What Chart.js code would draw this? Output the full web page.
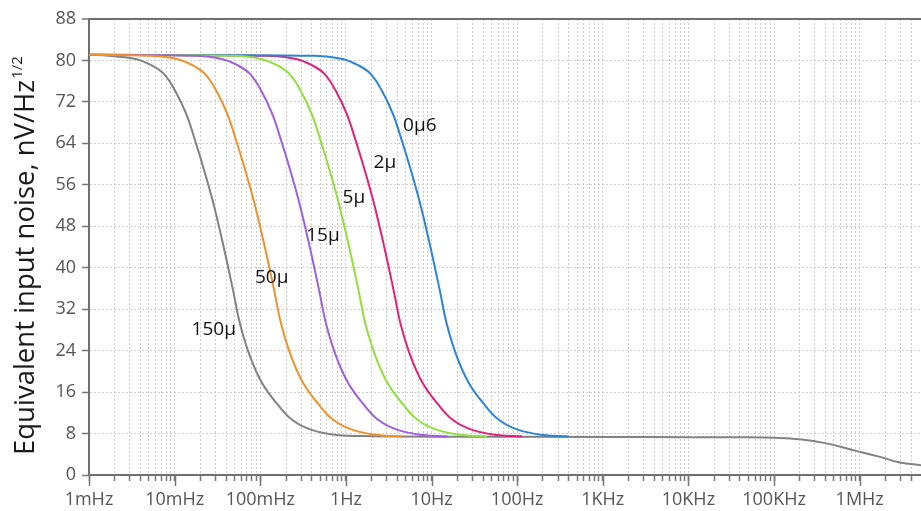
<!DOCTYPE html>
<html>
<head>
<meta charset="utf-8">
<script src="https://cdn.jsdelivr.net/npm/chart.js@4.4.1/dist/chart.umd.min.js"></script>
<style>
  body { margin: 0; background: #fff; }
  #wrap { width: 921px; height: 511px; }
</style>
</head>
<body>
<div id="wrap"><canvas id="myChart" width="921" height="511"></canvas></div>
<script>
// x axis: frequency (Hz), decade ticks
var xTickValues = [0.001, 0.01, 0.1, 1, 10, 100, 1000, 10000, 100000, 1000000];
var xTickLabels = ['1mHz', '10mHz', '100mHz', '1Hz', '10Hz', '100Hz', '1KHz', '10KHz', '100KHz', '1MHz'];
var xMin = 0.001, xMax = 5200000, xLastTick = 4000000;
var yMin = 0, yMax = 88, yStep = 8;

var yTitle = 'Equivalent input noise, nV/Hz';
var yTitleSup = '1/2';

// curves (frequency in Hz / noise in nV/rtHz)
var f150 = [0.001, 0.00168, 0.00351, 0.00548, 0.0075, 0.0101, 0.01365, 0.01738, 0.02213, 0.02773, 0.03443, 0.04217, 0.04898, 0.05794, 0.07638, 0.1054, 0.156, 0.237, 0.398, 0.785, 2, 10, 1000, 10000, 50000, 100000, 200000, 410000, 840000, 1730000, 2950000, 5200000];
var n150 = [81.1, 80.9, 80.3, 79.0, 77.4, 74.2, 69.7, 64.5, 58.8, 53.0, 46.6, 40.1, 35.0, 29.2, 22.8, 17.7, 13.8, 10.6, 8.7, 7.7, 7.5, 7.4, 7.35, 7.3, 7.3, 7.2, 6.9, 6.1, 4.8, 3.5, 2.4, 1.9];

var f50 = [0.001, 0.00507, 0.0106, 0.01656, 0.02265, 0.03055, 0.04121, 0.05248, 0.06683, 0.08375, 0.104, 0.1274, 0.1479, 0.175, 0.2307, 0.3184, 0.471, 0.716, 1.202, 2.371, 4.57];
var n50 = [81.1, 80.9, 80.3, 79.0, 77.4, 74.2, 69.7, 64.5, 58.8, 53.0, 46.6, 40.1, 35.0, 29.2, 22.8, 17.7, 13.8, 10.6, 8.7, 7.7, 7.45];

var f15 = [0.001, 0.017, 0.0355, 0.0555, 0.0759, 0.1023, 0.138, 0.1758, 0.2239, 0.2805, 0.3483, 0.4266, 0.4955, 0.5861, 0.7727, 1.067, 1.578, 2.399, 4.027, 7.943, 15.5];
var n15 = [81.1, 80.9, 80.3, 79.0, 77.4, 74.2, 69.7, 64.5, 58.8, 53.0, 46.6, 40.1, 35.0, 29.2, 22.8, 17.7, 13.8, 10.6, 8.7, 7.7, 7.45];

var f5 = [0.001, 0.049, 0.1023, 0.16, 0.2188, 0.2951, 0.3981, 0.507, 0.6457, 0.8091, 1.005, 1.23, 1.429, 1.69, 2.228, 3.076, 4.55, 6.918, 11.61, 22.91, 44.7];
var n5 = [81.1, 80.9, 80.3, 79.0, 77.4, 74.2, 69.7, 64.5, 58.8, 53.0, 46.6, 40.1, 35.0, 29.2, 22.8, 17.7, 13.8, 10.6, 8.7, 7.7, 7.45];

var f2 = [0.001, 0.1259, 0.263, 0.4111, 0.5623, 0.7586, 1.023, 1.303, 1.66, 2.08, 2.582, 3.162, 3.673, 4.345, 5.728, 7.907, 11.7, 17.78, 29.85, 58.88, 114.8];
var n2 = [81.1, 80.9, 80.3, 79.0, 77.4, 74.2, 69.7, 64.5, 58.8, 53.0, 46.6, 40.1, 35.0, 29.2, 22.8, 17.7, 13.8, 10.6, 8.7, 7.7, 7.45];

var f06 = [0.001, 0.4355, 0.9099, 1.422, 1.945, 2.624, 3.54, 4.508, 5.741, 7.194, 8.93, 10.94, 12.71, 15.03, 19.82, 27.35, 40.46, 61.52, 103.3, 203.7, 398];
var n06 = [81.1, 80.9, 80.3, 79.0, 77.4, 74.2, 69.7, 64.5, 58.8, 53.0, 46.6, 40.1, 35.0, 29.2, 22.8, 17.7, 13.8, 10.6, 8.7, 7.7, 7.45];

// curve labels placed at data coordinates
var labelTexts = ['0µ6', '2µ', '5µ', '15µ', '50µ', '150µ'];
var labelFreqs = [7.3, 2.85, 1.24, 0.54, 0.136, 0.0286];
var labelValues = [67.4, 60.3, 53.6, 46.2, 38.0, 28.1];

function pts(f, n) {
	var out = [];
	for (let i = 0; i < f.length; i++) {
		out.push({x: f[i], y: n[i]});
	}
	return out;
}

function line(data, color) {
	return {
		data: data,
		borderColor: color,
		borderWidth: 2,
		pointRadius: 0,
		fill: false,
		tension: 0.4
	};
}

var decor = {
	id: 'decor',
	afterDraw: function (chart) {
		var ctx = chart.ctx, x = chart.scales.x, y = chart.scales.y;
		ctx.save();
		// longer ticks at the decades
		ctx.strokeStyle = '#777';
		ctx.lineWidth = 1.5;
		xTickValues.forEach(function (v) {
			var px = Math.round(x.getPixelForValue(v)) + 0.5;
			ctx.beginPath();
			ctx.moveTo(px, y.bottom);
			ctx.lineTo(px, y.bottom + 11);
			ctx.stroke();
		});
		// curve labels
		ctx.fillStyle = '#111';
		ctx.font = "19px 'Open Sans'";
		ctx.textAlign = 'center';
		ctx.textBaseline = 'middle';
		for (let i = 0; i < labelTexts.length; i++) {
			ctx.fillText(labelTexts[i], x.getPixelForValue(labelFreqs[i]), y.getPixelForValue(labelValues[i]));
		}
		// y axis title with superscript
		ctx.translate(34, 455);
		ctx.rotate(-Math.PI / 2);
		ctx.textAlign = 'left';
		ctx.textBaseline = 'alphabetic';
		ctx.fillStyle = '#1a1a1a';
		ctx.font = "27.5px 'Open Sans'";
		ctx.fillText(yTitle, 0, 0);
		var w = ctx.measureText(yTitle).width;
		ctx.font = "15px 'Open Sans'";
		ctx.fillText(yTitleSup, w + 1, -12);
		ctx.restore();
	}
};

Chart.defaults.font.family = "'Open Sans', sans-serif";

new Chart("myChart", {
	type: "line",
	data: {
		datasets: [
			line(pts(f50, n50), '#f0922b'),
			line(pts(f15, n15), '#a05ee0'),
			line(pts(f5, n5), '#8fe03c'),
			line(pts(f06, n06), '#2a84d8'),
			line(pts(f2, n2), '#e2227a'),
			line(pts(f150, n150), '#828282')
		]
	},
	options: {
		responsive: false,
		devicePixelRatio: 1,
		animation: false,
		layout: {padding: {top: 19, right: 0, left: 0, bottom: 0}},
		plugins: {legend: {display: false}, tooltip: {enabled: false}},
		scales: {
			x: {
				type: 'logarithmic',
				min: xMin,
				max: xMax,
				afterBuildTicks: function (scale) {
					var t = [];
					for (let d = -3; d <= 6; d++) {
						for (let m = 1; m <= 9; m++) {
							var v = Number((m * Math.pow(10, d)).toPrecision(3));
							if (v <= xLastTick) t.push({value: v});
						}
					}
					scale.ticks = t;
				},
				afterFit: function (scale) { scale.height = 36; },
				ticks: {
					autoSkip: false,
					maxRotation: 0,
					padding: 8,
					color: '#555',
					font: {size: 18},
					callback: function (value) {
						var k = xTickValues.indexOf(value);
						return k >= 0 ? xTickLabels[k] : '';
					}
				},
				grid: {color: '#cdcdcd', lineWidth: 1, tickLength: 6, tickColor: '#777', tickWidth: 1.5},
				border: {display: true, color: '#707070', width: 2, dash: [2, 2]}
			},
			y: {
				min: yMin,
				max: yMax,
				afterFit: function (scale) { scale.width = 89; },
				ticks: {stepSize: yStep, padding: 6, color: '#555', font: {size: 18}},
				grid: {
					color: function (c) { return c.tick && c.tick.value === yMax ? '#707070' : '#cdcdcd'; },
					lineWidth: function (c) { return c.tick && c.tick.value === yMax ? 2 : 1; },
					tickLength: 7, tickColor: '#777', tickWidth: 1.5
				},
				border: {
					display: true, color: '#707070', width: 2,
					dash: function (c) { return c.tick && c.tick.value === yMax ? [] : [2, 2]; }
				}
			}
		}
	},
	plugins: [decor]
});
</script>
</body>
</html>
